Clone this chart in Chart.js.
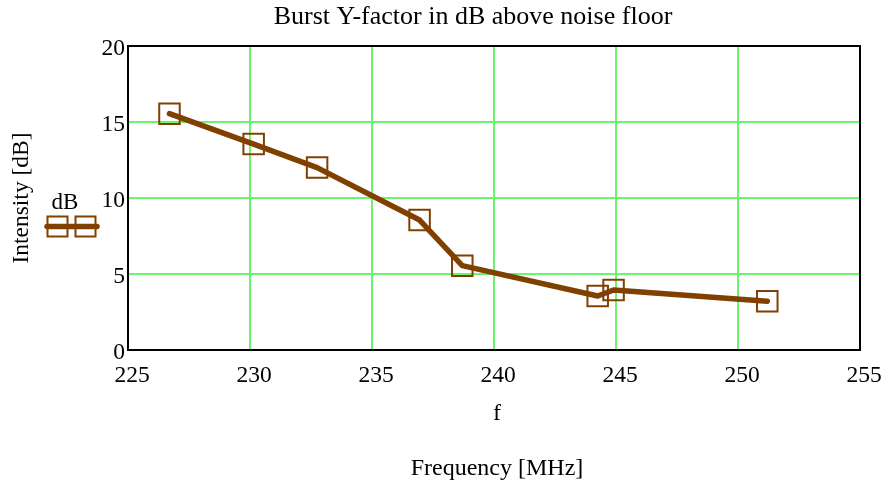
<!DOCTYPE html>
<html lang="en">
<head>
    <meta charset="UTF-8">
    <title>Burst Y-factor</title>
    <script src="https://cdn.jsdelivr.net/npm/chart.js"></script>
    <style>
        html, body { margin: 0; padding: 0; background: #fff; }
        #wrap { width: 882px; height: 483px; }
    </style>
</head>
<body>
    <div id="wrap"><canvas id="myChart" width="882" height="483"></canvas></div>
    <script>
        // measured burst points
        const freqMHz = [226.7, 230.15, 232.75, 236.95, 238.7, 244.25, 244.9, 251.2];
        const intensityDb = [15.55, 13.55, 12.0, 8.55, 5.55, 3.55, 3.95, 3.2];
        const xTicks = [225, 230, 235, 240, 245, 250, 255];
        const yTicks = [0, 5, 10, 15, 20];

        const brown = '#804000';
        const gridGreen = '#6cf56c';
        const serif = '"Liberation Serif", "DejaVu Serif", serif';
        const points = freqMHz.map((f, i) => ({ x: f, y: intensityDb[i] }));

        // title, frame, legend and the two-line x caption
        const extras = {
            id: 'extras',
            afterDatasetsDraw(chart) {
                const ctx = chart.ctx;
                const a = chart.chartArea;
                ctx.save();
                ctx.strokeStyle = '#000';
                ctx.lineWidth = 2;
                ctx.strokeRect(a.left, a.top, a.right - a.left, a.bottom - a.top);

                ctx.fillStyle = '#000';
                ctx.textAlign = 'center';
                ctx.textBaseline = 'middle';
                ctx.font = '26px ' + serif;
                ctx.fillText('Burst Y-factor in dB above noise floor', 473, 17);

                // legend
                ctx.font = '23px ' + serif;
                ctx.fillText('dB', 65, 203);
                ctx.strokeStyle = brown;
                ctx.lineWidth = 2;
                ctx.strokeRect(47.5, 216.5, 20, 20);
                ctx.strokeRect(75.5, 216.5, 20, 20);
                ctx.lineWidth = 5.5;
                ctx.lineCap = 'round';
                ctx.beginPath();
                ctx.moveTo(47, 226.5);
                ctx.lineTo(97, 226.5);
                ctx.stroke();

                // x captions
                const cx = (a.left + a.right) / 2 + 3;
                ctx.fillStyle = '#000';
                ctx.font = '24px ' + serif;
                ctx.fillText('f', cx, 414);
                ctx.fillText('Frequency [MHz]', cx, 469);
                ctx.restore();
            }
        };

        const ctx = document.getElementById('myChart').getContext('2d');
        new Chart(ctx, {
            type: 'scatter',
            data: {
                datasets: [{
                    label: 'dB',
                    data: points,
                    showLine: true,
                    borderColor: brown,
                    borderWidth: 5.5,
                    borderCapStyle: 'round',
                    borderJoinStyle: 'round',
                    pointRadius: 0,
                    order: 0
                }, {
                    label: 'dB markers',
                    data: points,
                    showLine: false,
                    pointStyle: 'rect',
                    pointRadius: 14.5,
                    pointBorderWidth: 2,
                    pointBorderColor: brown,
                    pointBackgroundColor: 'rgba(0,0,0,0)',
                    order: 1
                }]
            },
            options: {
                responsive: false,
                animation: false,
                layout: { padding: { left: 0, right: 22, top: 46, bottom: 0 } },
                plugins: {
                    legend: { display: false },
                    tooltip: { enabled: false },
                    title: { display: false }
                },
                scales: {
                    x: {
                        type: 'linear',
                        min: 225,
                        max: 255,
                        afterBuildTicks: s => { s.ticks = xTicks.map(v => ({ value: v })); },
                        afterFit: s => { s.height = 133; s.paddingLeft = 0; s.paddingRight = 0; },
                        grid: { color: gridGreen, lineWidth: 2, drawTicks: false },
                        border: { display: false },
                        ticks: {
                            color: '#000',
                            padding: 12,
                            labelOffset: 4,
                            font: { family: serif, size: 23.5 }
                        }
                    },
                    y: {
                        min: 0,
                        max: 20,
                        afterBuildTicks: s => { s.ticks = yTicks.map(v => ({ value: v })); },
                        afterFit: s => { s.width = 128; s.paddingTop = 0; s.paddingBottom = 0; },
                        grid: { color: gridGreen, lineWidth: 2, drawTicks: false },
                        border: { display: false },
                        title: {
                            display: true,
                            text: 'Intensity [dB]',
                            color: '#000',
                            font: { family: serif, size: 23.5 },
                            padding: { top: 8, bottom: 0 }
                        },
                        ticks: {
                            color: '#000',
                            padding: 3,
                            labelOffset: 3,
                            font: { family: serif, size: 23.5 }
                        }
                    }
                }
            },
            plugins: [extras]
        });
    </script>
</body>
</html>
